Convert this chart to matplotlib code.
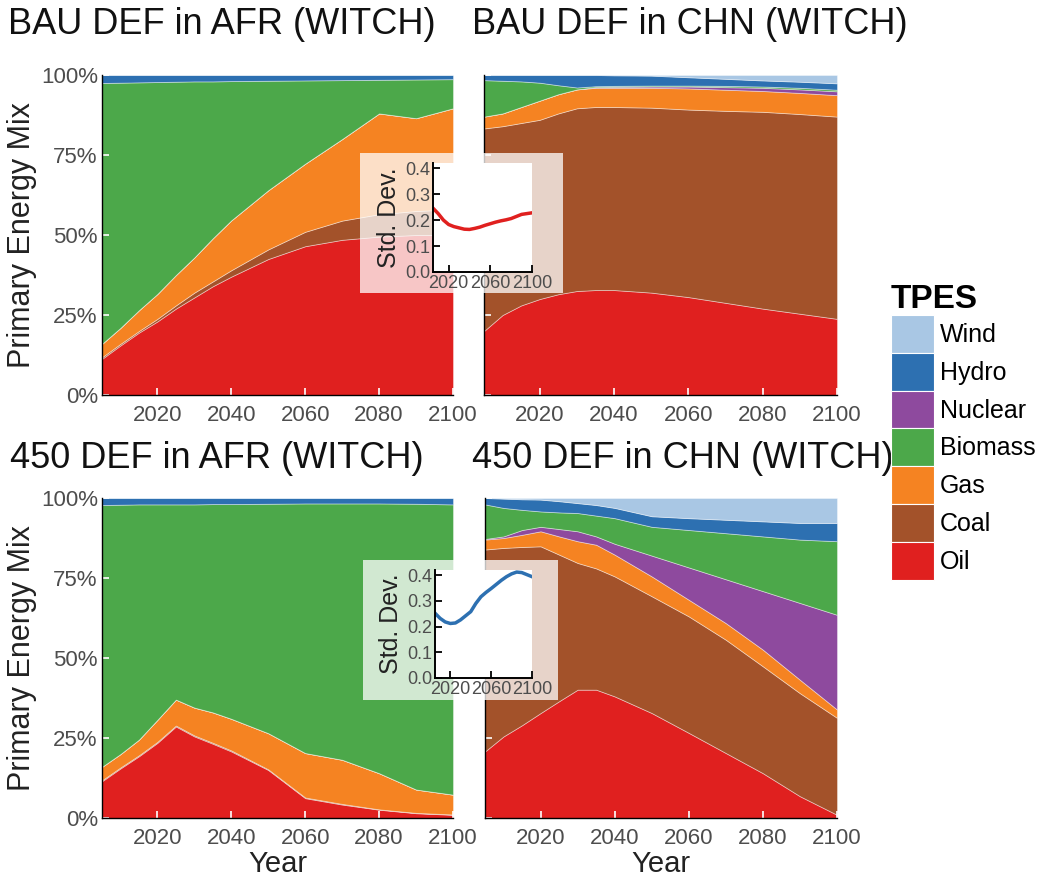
import matplotlib
matplotlib.use("Agg")
import matplotlib.pyplot as plt
from matplotlib.patches import Patch, Rectangle
from matplotlib.ticker import FuncFormatter
import numpy as np

plt.rcParams['font.family'] = ['Liberation Sans', 'DejaVu Sans']

# model periods
years = [2005, 2010, 2015, 2020, 2025, 2030, 2035, 2040, 2050, 2060, 2070, 2080, 2090, 2100]

# primary energy shares (%), stacked bottom to top: oil, coal, gas, nuclear, biomass, hydro, wind
bau_afr_oil     = [11.3, 15.5, 19.5, 23.0, 27.0, 30.5, 34.0, 37.0, 42.5, 46.5, 48.5, 49.5, 50.0, 50.0]
bau_afr_coal    = [0.5, 0.5, 0.5, 0.8, 1.0, 1.5, 1.5, 2.0, 3.0, 4.5, 6.0, 7.0, 7.5, 8.0]
bau_afr_gas     = [4.2, 5.0, 6.5, 7.8, 9.5, 11.0, 13.5, 15.6, 18.5, 21.3, 25.5, 31.5, 29.0, 31.6]
bau_afr_nuclear = [0] * 14
bau_afr_biomass = [81.5, 76.6, 71.2, 66.2, 60.4, 55.0, 49.0, 43.5, 34.2, 26.0, 18.4, 10.5, 12.1, 9.1]
bau_afr_hydro   = [2.5, 2.4, 2.3, 2.2, 2.1, 2.0, 2.0, 1.9, 1.8, 1.7, 1.6, 1.5, 1.4, 1.3]
bau_afr_wind    = [0] * 14

bau_chn_oil     = [20.0, 25.0, 28.0, 30.0, 31.5, 32.5, 32.8, 32.8, 32.0, 30.6, 28.8, 27.0, 25.4, 23.8]
bau_chn_coal    = [63.3, 59.0, 57.0, 56.0, 56.5, 57.1, 57.2, 57.2, 57.8, 58.6, 60.0, 61.5, 62.4, 63.2]
bau_chn_gas     = [3.7, 4.0, 5.0, 6.0, 6.0, 5.9, 6.0, 6.0, 6.2, 6.6, 6.6, 6.5, 6.6, 6.7]
bau_chn_nuclear = [0, 0, 0, 0, 0, 0, 0.2, 0.3, 0.4, 0.6, 0.8, 1.0, 1.1, 1.2]
bau_chn_biomass = [11.4, 10.2, 8.0, 5.6, 2.8, 0.6, 0.3, 0.3, 0.3, 0.3, 0.4, 0.4, 0.5, 0.5]
bau_chn_hydro   = [1.6, 1.8, 2.0, 2.4, 3.2, 3.9, 3.5, 3.3, 3.1, 2.6, 2.2, 1.9, 1.9, 2.0]
bau_chn_wind    = [0, 0, 0, 0, 0, 0, 0, 0.1, 0.2, 0.7, 1.2, 1.7, 2.1, 2.6]

p450_afr_oil     = [11.5, 15.5, 19.3, 23.5, 28.6, 25.5, 23.2, 20.8, 15.0, 6.2, 4.2, 2.6, 1.5, 1.0]
p450_afr_coal    = [0.3, 0.3, 0.3, 0.3, 0.3, 0.3, 0.3, 0.3, 0.2, 0.2, 0.2, 0.1, 0.1, 0.1]
p450_afr_gas     = [4.2, 4.2, 4.9, 6.9, 8.1, 8.7, 9.5, 9.9, 11.3, 13.9, 13.8, 11.3, 7.3, 6.2]
p450_afr_nuclear = [0] * 14
p450_afr_biomass = [81.8, 77.9, 73.5, 67.3, 61.0, 63.5, 65.1, 67.1, 71.7, 78.0, 80.1, 84.3, 89.3, 90.7]
p450_afr_hydro   = [2.2, 2.1, 2.0, 2.0, 2.0, 2.0, 1.9, 1.9, 1.8, 1.7, 1.7, 1.7, 1.8, 2.0]
p450_afr_wind    = [0] * 14

p450_chn_oil     = [20.8, 25.5, 29.0, 32.8, 36.5, 40.1, 40.1, 38.0, 32.8, 26.6, 20.3, 14.0, 6.8, 1.0]
p450_chn_coal    = [63.1, 58.9, 55.7, 52.1, 45.8, 39.6, 37.9, 37.5, 36.5, 36.4, 35.4, 33.4, 32.2, 30.3]
p450_chn_gas     = [3.1, 3.1, 3.8, 4.7, 5.7, 6.8, 7.4, 6.8, 6.2, 5.2, 5.2, 5.2, 4.2, 2.6]
p450_chn_nuclear = [0.2, 0.5, 1.5, 1.4, 2.3, 3.1, 2.6, 3.4, 6.5, 10.1, 13.7, 18.3, 24.0, 29.6]
p450_chn_biomass = [10.8, 8.9, 6.3, 4.8, 5.2, 5.7, 6.5, 8.0, 9.0, 11.7, 14.4, 17.1, 19.8, 23.0]
p450_chn_hydro   = [2.0, 2.9, 3.3, 3.7, 3.5, 3.1, 3.3, 3.2, 3.3, 3.7, 4.2, 4.7, 5.2, 5.7]
p450_chn_wind    = [0, 0.2, 0.4, 0.5, 1.0, 1.6, 2.2, 3.1, 5.7, 6.3, 6.8, 7.3, 7.8, 7.8]

# spread across models
sd_years = list(range(2005, 2101, 5))
sd_bau = [0.246, 0.225, 0.200, 0.183, 0.175, 0.170, 0.165, 0.164, 0.168, 0.173,
          0.180, 0.186, 0.192, 0.197, 0.201, 0.206, 0.214, 0.222, 0.225, 0.228]
sd_450 = [0.252, 0.232, 0.218, 0.212, 0.214, 0.226, 0.242, 0.258, 0.290, 0.316,
          0.333, 0.348, 0.364, 0.380, 0.394, 0.405, 0.412, 0.410, 0.402, 0.394]

titles = ["BAU DEF in AFR (WITCH)", "BAU DEF in CHN (WITCH)",
          "450 DEF in AFR (WITCH)", "450 DEF in CHN (WITCH)"]

stack_colors = ['#e0201f', '#a3522a', '#f58322', '#8e4a9e', '#4ca84a', '#2d70b1', '#a9c7e4']
legend_labels = ['Wind', 'Hydro', 'Nuclear', 'Biomass', 'Gas', 'Coal', 'Oil']
legend_colors = ['#a9c7e4', '#2d70b1', '#8e4a9e', '#4ca84a', '#f58322', '#a3522a', '#e0201f']

panels = [
    [bau_afr_oil, bau_afr_coal, bau_afr_gas, bau_afr_nuclear, bau_afr_biomass, bau_afr_hydro, bau_afr_wind],
    [bau_chn_oil, bau_chn_coal, bau_chn_gas, bau_chn_nuclear, bau_chn_biomass, bau_chn_hydro, bau_chn_wind],
    [p450_afr_oil, p450_afr_coal, p450_afr_gas, p450_afr_nuclear, p450_afr_biomass, p450_afr_hydro, p450_afr_wind],
    [p450_chn_oil, p450_chn_coal, p450_chn_gas, p450_chn_nuclear, p450_chn_biomass, p450_chn_hydro, p450_chn_wind],
]

W, H = 1041, 877
fig = plt.figure(figsize=(W / 100, H / 100), dpi=100)

def px_box(x0, y0, x1, y1):
    # pixel box (top-left origin) -> figure fraction rect
    return [x0 / W, 1 - y1 / H, (x1 - x0) / W, (y1 - y0) / H]

boxes = [px_box(102, 75, 453, 395), px_box(484, 75, 837, 395),
         px_box(102, 498, 453, 818), px_box(485, 498, 837, 818)]
title_pos = [(8, 25), (472, 25), (10, 458), (472, 458)]

grey = '#4d4d4d'
for i, (vals, box) in enumerate(zip(panels, boxes)):
    ax = fig.add_axes(box)
    ax.stackplot(years, *vals, colors=stack_colors,
                 edgecolor=(1, 1, 1, 0.45), linewidth=0.6)
    ax.set_xlim(2005, 2100)
    ax.set_ylim(0, 100)
    ax.set_xticks([2020, 2040, 2060, 2080, 2100])
    ax.set_yticks([0, 25, 50, 75, 100])
    ax.yaxis.set_major_formatter(FuncFormatter(lambda v, p: f"{v:.0f}%"))
    ax.tick_params(direction='in', color='white', length=5, width=1.2,
                   labelsize=16, labelcolor=grey)
    ax.tick_params(axis='x', pad=7)
    ax.tick_params(axis='y', pad=3)
    for s in ['top', 'right']:
        ax.spines[s].set_visible(False)
    for s in ['left', 'bottom']:
        ax.spines[s].set_color('black')
        ax.spines[s].set_linewidth(1.0)
    if i % 2 == 1:
        ax.tick_params(axis='y', labelleft=False)
    else:
        ax.set_ylabel("Primary Energy Mix", fontsize=22, color='#222222', labelpad=3)
    if i >= 2:
        ax.set_xlabel("Year", fontsize=21, color='#222222', labelpad=1)
    fig.text(title_pos[i][0] / W, 1 - title_pos[i][1] / H, titles[i],
             fontsize=26, ha='left', va='center', color='#111111')

# translucent panels behind the std-dev insets
fig.patches.append(Rectangle((360 / W, 1 - 293 / H), 203 / W, 140 / H,
                             transform=fig.transFigure, facecolor='white',
                             alpha=0.75, edgecolor='none', zorder=1))
fig.patches.append(Rectangle((363 / W, 1 - 700 / H), 195 / W, 140 / H,
                             transform=fig.transFigure, facecolor='white',
                             alpha=0.75, edgecolor='none', zorder=1))

inset_boxes = [px_box(433, 163, 532, 272), px_box(435, 570, 532, 678)]
for sd, col, box in zip([sd_bau, sd_450], ['#e0201f', '#2d70b1'], inset_boxes):
    ins = fig.add_axes(box)
    ins.set_zorder(3)
    ins.plot(sd_years, sd, color=col, linewidth=2.5)
    ins.set_xlim(2005, 2100)
    ins.set_ylim(0, 0.42)
    ins.set_xticks([2020, 2060, 2100])
    ins.set_yticks([0.0, 0.1, 0.2, 0.3, 0.4])
    ins.yaxis.set_major_formatter(FuncFormatter(lambda v, p: f"{v:.1f}"))
    ins.tick_params(direction='in', length=5, width=1.3, color='black',
                    labelsize=13, labelcolor=grey, pad=2)
    for s in ['top', 'right']:
        ins.spines[s].set_visible(False)
    for s in ['left', 'bottom']:
        ins.spines[s].set_linewidth(1.4)
    ins.set_ylabel("Std. Dev.", fontsize=18, color='#222222', labelpad=3)

handles = [Patch(facecolor=c, edgecolor='white', linewidth=0.8) for c in legend_colors]
fig.legend(handles, legend_labels, loc='upper left',
           bbox_to_anchor=(891 / W, 1 - 284 / H), frameon=False,
           fontsize=18, title='TPES',
           title_fontproperties={'weight': 'bold', 'size': 24},
           alignment='left', handlelength=1.7, handleheight=1.95,
           labelspacing=0.0, handletextpad=0.25, borderpad=0, borderaxespad=0)

fig.savefig("out.png", dpi=100)
